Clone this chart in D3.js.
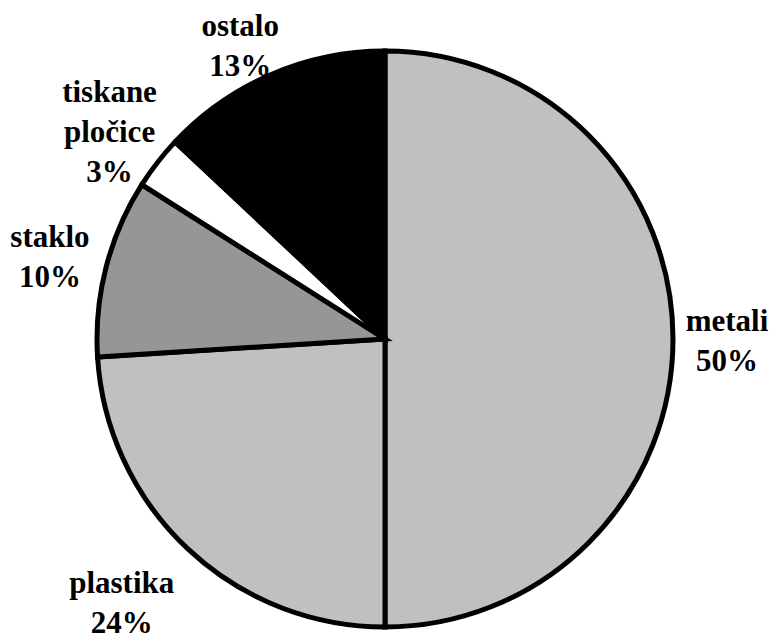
<!DOCTYPE html>
<html>
<head>
<meta charset="utf-8">
<script src="https://cdn.jsdelivr.net/npm/d3@7"></script>
<style>
  html, body { margin: 0; padding: 0; background: #fff; }
  svg { display: block; }
</style>
</head>
<body>
<svg id="chart" width="774" height="635"></svg>
<script>
const categories = ["metali", "plastika", "staklo", "tiskane pločice", "ostalo"];
const labelLines = [["metali"], ["plastika"], ["staklo"], ["tiskane", "pločice"], ["ostalo"]];
const values = [50, 24, 10, 3, 13];
const colors = ["#c0c0c0", "#c0c0c0", "#969696", "#ffffff", "#000000"];
// label placement (style): radius from centre and small angular shift in degrees
const labelRadius = [342, 373, 345, 344.5, 327];
const labelShift = [0.3, 1.7, -0.6, -0.9, -2.9];

const svg = d3.select("#chart");
const cx = 385, cy = 339, r = 288;
const g = svg.append("g").attr("transform", `translate(${cx},${cy})`);

const data = categories.map((c, i) => ({ name: c, lines: labelLines[i], value: values[i], color: colors[i], lr: labelRadius[i], ls: labelShift[i] }));
const pie = d3.pie().value(d => d.value).sort(null);
const arcs = pie(data);
const arc = d3.arc().innerRadius(0).outerRadius(r);

g.selectAll("path.slice").data(arcs).enter().append("path")
  .attr("class", "slice")
  .attr("d", arc)
  .attr("fill", d => d.data.color)
  .attr("stroke", "#000")
  .attr("stroke-width", 5)
  .attr("stroke-linejoin", "miter");

const fs = 31, lh = 40;
arcs.forEach(a => {
  const mid = (a.startAngle + a.endAngle) / 2 + a.data.ls * Math.PI / 180;
  const x = a.data.lr * Math.sin(mid);
  const y = -a.data.lr * Math.cos(mid);
  const lines = a.data.lines.concat([a.data.value + "%"]);
  const n = lines.length;
  const t = g.append("text")
    .attr("text-anchor", "middle")
    .attr("font-family", "'Liberation Serif', 'Times New Roman', serif")
    .attr("font-weight", "bold")
    .attr("font-size", fs)
    .attr("fill", "#000");
  lines.forEach((ln, i) => {
    t.append("tspan").attr("x", x).attr("y", y + (i - (n - 1) / 2) * lh + fs * 0.33).text(ln);
  });
});
</script>
</body>
</html>
